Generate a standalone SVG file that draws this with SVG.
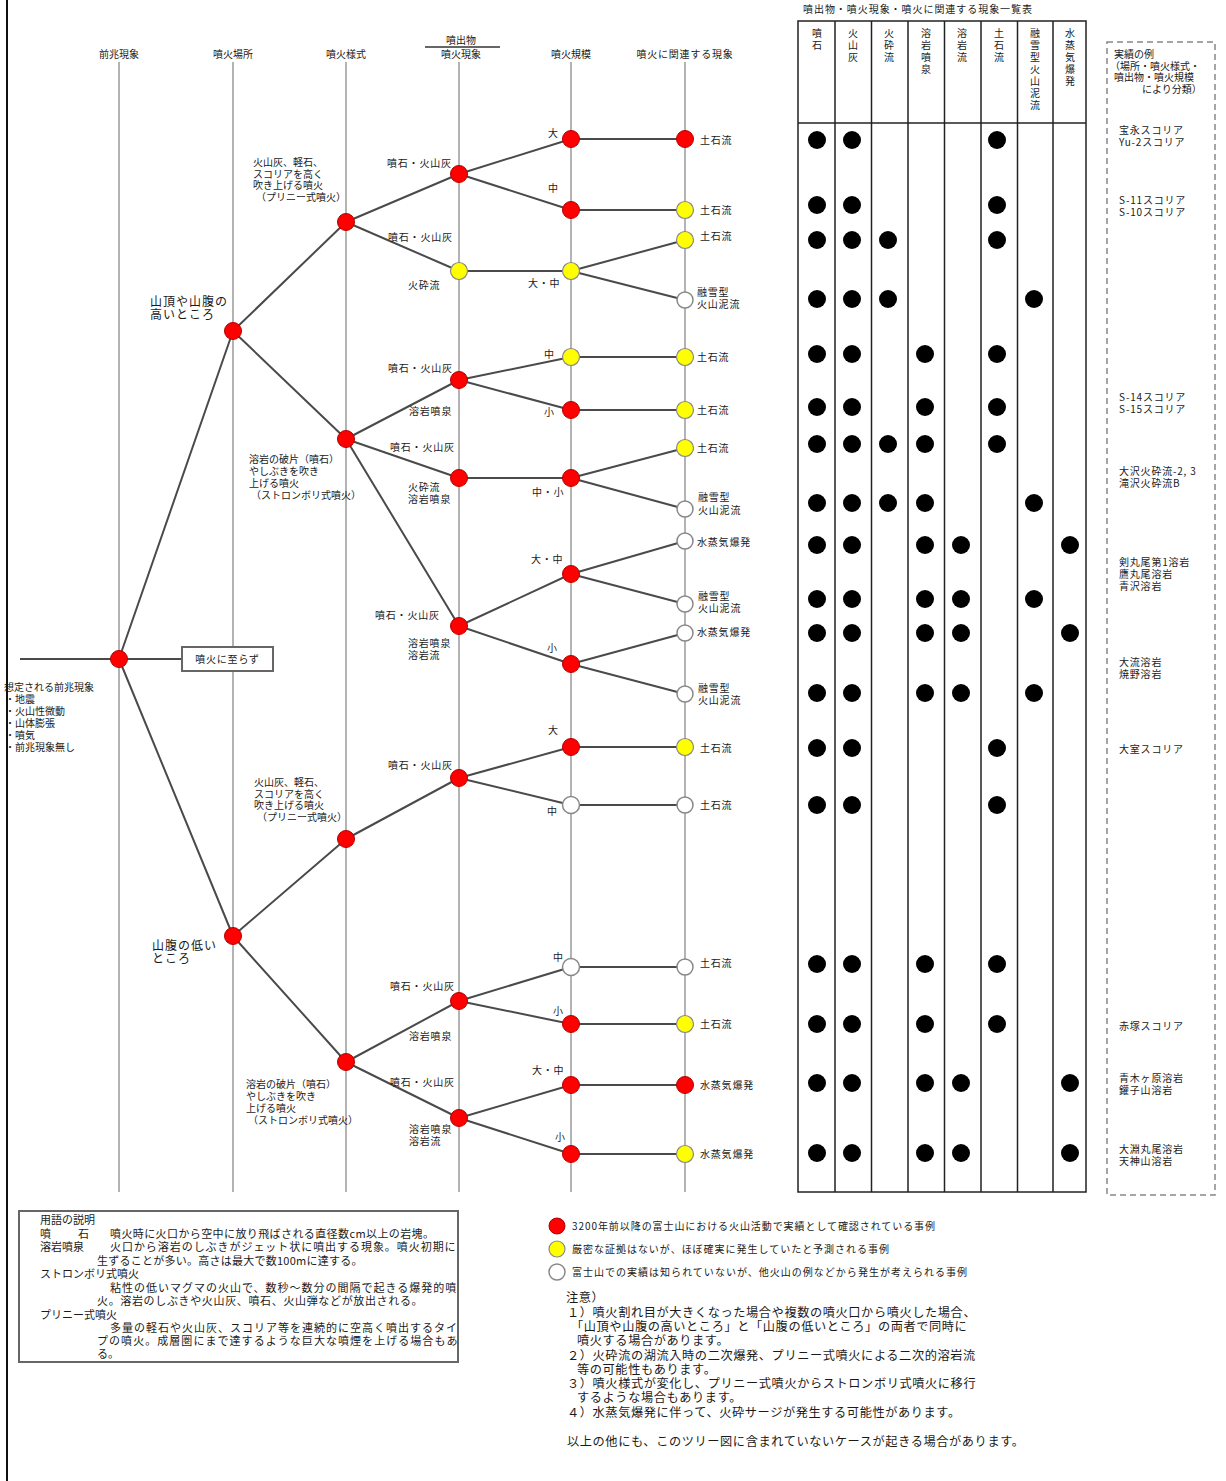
<svg xmlns="http://www.w3.org/2000/svg" width="1226" height="1481" viewBox="0 0 1226 1481">
<style>
text{font-family:"Noto Sans CJK JP","Noto Sans",sans-serif;fill:#1a1a1a;font-size:10px}
.hd{font-size:10px;text-anchor:middle}
.lb{font-size:10px;letter-spacing:0.8px}
.big{font-size:12px;letter-spacing:1px}
.note{font-size:12.2px;letter-spacing:0.6px}
.lg{font-size:11px}
.col{stroke:#9a9a9a;stroke-width:1.5;fill:none}
.edge{stroke:#4a4a4a;stroke-width:2;fill:none}
.r{fill:#ff0000;stroke:#b00000;stroke-width:1}
.y{fill:#ffff00;stroke:#888;stroke-width:1.2}
.w{fill:#fff;stroke:#888;stroke-width:1.5}
.dot{fill:#000}
.tbl{stroke:#222;stroke-width:1.5;fill:none}
</style>
<rect width="1226" height="1481" fill="#fff"/>

<g id="columns">
<line class="col" x1="119" y1="62" x2="119" y2="1192"/>
<line class="col" x1="233" y1="62" x2="233" y2="1192"/>
<line class="col" x1="346" y1="62" x2="346" y2="1192"/>
<line class="col" x1="459" y1="62" x2="459" y2="1192"/>
<line class="col" x1="571" y1="62" x2="571" y2="1192"/>
<line class="col" x1="685" y1="62" x2="685" y2="1192"/>
</g>
<g id="headers">
<text class="hd" x="119" y="58">前兆現象</text>
<text class="hd" x="233" y="58">噴火場所</text>
<text class="hd" x="346" y="58">噴火様式</text>
<text class="hd" x="461" y="44">噴出物</text>
<line x1="425" y1="47" x2="500" y2="47" stroke="#333" stroke-width="1.5"/>
<text class="hd" x="461" y="58">噴火現象</text>
<text class="hd" x="571" y="58">噴火規模</text>
<text class="hd" x="685" y="58" letter-spacing="0.8">噴火に関連する現象</text>
</g>

<g id="connectors">
<line class="edge" x1="20" y1="659" x2="182" y2="659"/>
<path class="edge" d="M119 659L233 331M119 659L233 936M233 331L346 222M233 331L346 439M346 222L459 174M346 222L459 271M459 174L571 139M459 174L571 210M459 271L571 271M571 139L685 139M571 210L685 210M571 271L685 240M571 271L685 300M346 439L459 380M346 439L459 478M346 439L459 626M459 380L571 357M459 380L571 410M571 357L685 357M571 410L685 410M459 478L571 478M571 478L685 448M571 478L685 509M459 626L571 574M459 626L571 664M571 574L685 541M571 574L685 604M571 664L685 633M571 664L685 694M233 936L346 839M233 936L346 1062M346 839L459 778M459 778L571 747M459 778L571 805M571 747L685 747M571 805L685 805M346 1062L459 1001M346 1062L459 1118M459 1001L571 967M459 1001L571 1024M571 967L685 967M571 1024L685 1024M459 1118L571 1085M459 1118L571 1154M571 1085L685 1085M571 1154L685 1154"/>
</g>

<g id="root"><circle class="r" cx="119" cy="659" r="8.5"/></g>
<g id="no-eruption"><rect x="182" y="647" width="91" height="24" fill="#fff" stroke="#666" stroke-width="2"/><text x="227.5" y="663" text-anchor="middle" class="lb">噴火に至らず</text></g>
<g id="precursor">
<text x="4" y="691">想定される前兆現象<tspan x="5" dy="12">・地震</tspan><tspan x="5" dy="12">・火山性微動</tspan><tspan x="5" dy="12">・山体膨張</tspan><tspan x="5" dy="12">・噴気</tspan><tspan x="5" dy="12">・前兆現象無し</tspan></text>
</g>
<line x1="7" y1="0" x2="7" y2="1481" stroke="#111" stroke-width="2"/>

<g id="place-high"><circle class="r" cx="233" cy="331" r="8.5"/><text class="big" x="150" y="306">山頂や山腹の<tspan x="150" dy="12.5">高いところ</tspan></text></g>
<g id="place-low"><circle class="r" cx="233" cy="936" r="8.5"/><text class="big" x="152" y="950">山腹の低い<tspan x="152" dy="13">ところ</tspan></text></g>

<g id="pliny-high"><circle class="r" cx="346" cy="222" r="8.5"/>
<text x="253" y="166">火山灰、軽石、<tspan x="253" dy="11.5">スコリアを高く</tspan><tspan x="253" dy="11.5">吹き上げる噴火</tspan><tspan x="256" dy="11.5">（プリニー式噴火）</tspan></text></g>
<g id="strom-high"><circle class="r" cx="346" cy="439" r="8.5"/>
<text x="249" y="463">溶岩の破片（噴石）<tspan x="249" dy="12">やしぶきを吹き</tspan><tspan x="249" dy="12">上げる噴火</tspan><tspan x="251" dy="12">（ストロンボリ式噴火）</tspan></text></g>
<g id="pliny-low"><circle class="r" cx="346" cy="839" r="8.5"/>
<text x="254" y="786">火山灰、軽石、<tspan x="254" dy="11.5">スコリアを高く</tspan><tspan x="254" dy="11.5">吹き上げる噴火</tspan><tspan x="257" dy="11.5">（プリニー式噴火）</tspan></text></g>
<g id="strom-low"><circle class="r" cx="346" cy="1062" r="8.5"/>
<text x="246" y="1088">溶岩の破片（噴石）<tspan x="246" dy="12">やしぶきを吹き</tspan><tspan x="246" dy="12">上げる噴火</tspan><tspan x="248" dy="12">（ストロンボリ式噴火）</tspan></text></g>

<g id="ejecta">
<circle class="r" cx="459" cy="174" r="8.5"/><text class="lb" x="387" y="167">噴石・火山灰</text>
<circle class="y" cx="459" cy="271" r="8.5"/><text class="lb" x="388" y="241">噴石・火山灰</text><text class="lb" x="408" y="289">火砕流</text>
<circle class="r" cx="459" cy="380" r="8.5"/><text class="lb" x="388" y="372">噴石・火山灰</text><text class="lb" x="409" y="415">溶岩噴泉</text>
<circle class="r" cx="459" cy="478" r="8.5"/><text class="lb" x="390" y="451">噴石・火山灰</text><text class="lb" x="408" y="491">火砕流<tspan x="408" dy="12">溶岩噴泉</tspan></text>
<circle class="r" cx="459" cy="626" r="8.5"/><text class="lb" x="375" y="619">噴石・火山灰</text><text class="lb" x="408" y="647">溶岩噴泉<tspan x="408" dy="12">溶岩流</tspan></text>
<circle class="r" cx="459" cy="778" r="8.5"/><text class="lb" x="388" y="769">噴石・火山灰</text>
<circle class="r" cx="459" cy="1001" r="8.5"/><text class="lb" x="390" y="990">噴石・火山灰</text><text class="lb" x="409" y="1040">溶岩噴泉</text>
<circle class="r" cx="459" cy="1118" r="8.5"/><text class="lb" x="390" y="1086">噴石・火山灰</text><text class="lb" x="409" y="1133">溶岩噴泉<tspan x="409" dy="12">溶岩流</tspan></text>
</g>

<g id="scale">
<circle class="r" cx="571" cy="139" r="8.5"/><text class="lb" x="548" y="137">大</text>
<circle class="r" cx="571" cy="210" r="8.5"/><text class="lb" x="548" y="192">中</text>
<circle class="y" cx="571" cy="271" r="8.5"/><text class="lb" x="528" y="287">大・中</text>
<circle class="y" cx="571" cy="357" r="8.5"/><text class="lb" x="544" y="358">中</text>
<circle class="r" cx="571" cy="410" r="8.5"/><text class="lb" x="544" y="416">小</text>
<circle class="r" cx="571" cy="478" r="8.5"/><text class="lb" x="532" y="496">中・小</text>
<circle class="r" cx="571" cy="574" r="8.5"/><text class="lb" x="531" y="563">大・中</text>
<circle class="r" cx="571" cy="664" r="8.5"/><text class="lb" x="547" y="652">小</text>
<circle class="r" cx="571" cy="747" r="8.5"/><text class="lb" x="548" y="734">大</text>
<circle class="w" cx="571" cy="805" r="8.5"/><text class="lb" x="547" y="815">中</text>
<circle class="w" cx="571" cy="967" r="8.5"/><text class="lb" x="553" y="961">中</text>
<circle class="r" cx="571" cy="1024" r="8.5"/><text class="lb" x="553" y="1015">小</text>
<circle class="r" cx="571" cy="1085" r="8.5"/><text class="lb" x="532" y="1074">大・中</text>
<circle class="r" cx="571" cy="1154" r="8.5"/><text class="lb" x="555" y="1141">小</text>
</g>

<g id="related">
<circle class="r" cx="685" cy="139" r="8.5"/><text class="lb" x="700" y="144">土石流</text>
<circle class="y" cx="685" cy="210" r="8.5"/><text class="lb" x="700" y="214">土石流</text>
<circle class="y" cx="685" cy="240" r="8.5"/><text class="lb" x="700" y="240">土石流</text>
<circle class="w" cx="685" cy="300" r="8"/><text class="lb" x="697" y="296">融雪型<tspan x="697" dy="11.5">火山泥流</tspan></text>
<circle class="y" cx="685" cy="357" r="8.5"/><text class="lb" x="697" y="361">土石流</text>
<circle class="y" cx="685" cy="410" r="8.5"/><text class="lb" x="697" y="414">土石流</text>
<circle class="y" cx="685" cy="448" r="8.5"/><text class="lb" x="697" y="452">土石流</text>
<circle class="w" cx="685" cy="509" r="8"/><text class="lb" x="698" y="501">融雪型<tspan x="698" dy="12.5">火山泥流</tspan></text>
<circle class="w" cx="685" cy="541" r="8"/><text class="lb" x="697" y="546">水蒸気爆発</text>
<circle class="w" cx="685" cy="604" r="8"/><text class="lb" x="698" y="600">融雪型<tspan x="698" dy="12">火山泥流</tspan></text>
<circle class="w" cx="685" cy="633" r="8"/><text class="lb" x="697" y="636">水蒸気爆発</text>
<circle class="w" cx="685" cy="694" r="8"/><text class="lb" x="698" y="692">融雪型<tspan x="698" dy="12">火山泥流</tspan></text>
<circle class="y" cx="685" cy="747" r="8.5"/><text class="lb" x="700" y="752">土石流</text>
<circle class="w" cx="685" cy="805" r="8"/><text class="lb" x="700" y="809">土石流</text>
<circle class="w" cx="685" cy="967" r="8"/><text class="lb" x="700" y="967">土石流</text>
<circle class="y" cx="685" cy="1024" r="8.5"/><text class="lb" x="700" y="1028">土石流</text>
<circle class="r" cx="685" cy="1085" r="8.5"/><text class="lb" x="700" y="1089">水蒸気爆発</text>
<circle class="y" cx="685" cy="1154" r="8.5"/><text class="lb" x="700" y="1158">水蒸気爆発</text>
</g>

<g id="table">
<text x="803" y="13" textLength="229">噴出物・噴火現象・噴火に関連する現象一覧表</text>
<rect class="tbl" x="798" y="21" width="288" height="1171"/>
<line class="tbl" x1="798" y1="123" x2="1086" y2="123"/>
<path class="tbl" d="M835 21V1192M871.5 21V1192M908 21V1192M944.5 21V1192M981 21V1192M1017.5 21V1192M1053 21V1192"/>
<g class="hd">
<text x="817" y="37">噴<tspan x="817" dy="12">石</tspan></text>
<text x="853" y="37">火<tspan x="853" dy="12">山</tspan><tspan x="853" dy="12">灰</tspan></text>
<text x="889" y="37">火<tspan x="889" dy="12">砕</tspan><tspan x="889" dy="12">流</tspan></text>
<text x="926" y="37">溶<tspan x="926" dy="12">岩</tspan><tspan x="926" dy="12">噴</tspan><tspan x="926" dy="12">泉</tspan></text>
<text x="962" y="37">溶<tspan x="962" dy="12">岩</tspan><tspan x="962" dy="12">流</tspan></text>
<text x="999" y="37">土<tspan x="999" dy="12">石</tspan><tspan x="999" dy="12">流</tspan></text>
<text x="1035" y="37">融<tspan x="1035" dy="12">雪</tspan><tspan x="1035" dy="12">型</tspan><tspan x="1035" dy="12">火</tspan><tspan x="1035" dy="12">山</tspan><tspan x="1035" dy="12">泥</tspan><tspan x="1035" dy="12">流</tspan></text>
<text x="1070" y="37">水<tspan x="1070" dy="12">蒸</tspan><tspan x="1070" dy="12">気</tspan><tspan x="1070" dy="12">爆</tspan><tspan x="1070" dy="12">発</tspan></text>
</g>
<g class="dot">
<circle cx="817" cy="140" r="9"/><circle cx="852" cy="140" r="9"/><circle cx="997" cy="140" r="9"/>
<circle cx="817" cy="205" r="9"/><circle cx="852" cy="205" r="9"/><circle cx="997" cy="205" r="9"/>
<circle cx="817" cy="240" r="9"/><circle cx="852" cy="240" r="9"/><circle cx="888" cy="240" r="9"/><circle cx="997" cy="240" r="9"/>
<circle cx="817" cy="299" r="9"/><circle cx="852" cy="299" r="9"/><circle cx="888" cy="299" r="9"/><circle cx="1034" cy="299" r="9"/>
<circle cx="817" cy="354" r="9"/><circle cx="852" cy="354" r="9"/><circle cx="925" cy="354" r="9"/><circle cx="997" cy="354" r="9"/>
<circle cx="817" cy="407" r="9"/><circle cx="852" cy="407" r="9"/><circle cx="925" cy="407" r="9"/><circle cx="997" cy="407" r="9"/>
<circle cx="817" cy="444" r="9"/><circle cx="852" cy="444" r="9"/><circle cx="888" cy="444" r="9"/><circle cx="925" cy="444" r="9"/><circle cx="997" cy="444" r="9"/>
<circle cx="817" cy="503" r="9"/><circle cx="852" cy="503" r="9"/><circle cx="888" cy="503" r="9"/><circle cx="925" cy="503" r="9"/><circle cx="1034" cy="503" r="9"/>
<circle cx="817" cy="545" r="9"/><circle cx="852" cy="545" r="9"/><circle cx="925" cy="545" r="9"/><circle cx="961" cy="545" r="9"/><circle cx="1070" cy="545" r="9"/>
<circle cx="817" cy="599" r="9"/><circle cx="852" cy="599" r="9"/><circle cx="925" cy="599" r="9"/><circle cx="961" cy="599" r="9"/><circle cx="1034" cy="599" r="9"/>
<circle cx="817" cy="633" r="9"/><circle cx="852" cy="633" r="9"/><circle cx="925" cy="633" r="9"/><circle cx="961" cy="633" r="9"/><circle cx="1070" cy="633" r="9"/>
<circle cx="817" cy="693" r="9"/><circle cx="852" cy="693" r="9"/><circle cx="925" cy="693" r="9"/><circle cx="961" cy="693" r="9"/><circle cx="1034" cy="693" r="9"/>
<circle cx="817" cy="748" r="9"/><circle cx="852" cy="748" r="9"/><circle cx="997" cy="748" r="9"/>
<circle cx="817" cy="805" r="9"/><circle cx="852" cy="805" r="9"/><circle cx="997" cy="805" r="9"/>
<circle cx="817" cy="964" r="9"/><circle cx="852" cy="964" r="9"/><circle cx="925" cy="964" r="9"/><circle cx="997" cy="964" r="9"/>
<circle cx="817" cy="1024" r="9"/><circle cx="852" cy="1024" r="9"/><circle cx="925" cy="1024" r="9"/><circle cx="997" cy="1024" r="9"/>
<circle cx="817" cy="1083" r="9"/><circle cx="852" cy="1083" r="9"/><circle cx="925" cy="1083" r="9"/><circle cx="961" cy="1083" r="9"/><circle cx="1070" cy="1083" r="9"/>
<circle cx="817" cy="1153" r="9"/><circle cx="852" cy="1153" r="9"/><circle cx="925" cy="1153" r="9"/><circle cx="961" cy="1153" r="9"/><circle cx="1070" cy="1153" r="9"/>
</g>
</g>

<g id="examples">
<rect x="1107" y="42" width="108" height="1153" fill="none" stroke="#888" stroke-width="1.5" stroke-dasharray="6 4"/>
<text x="1114" y="58">実績の例<tspan x="1110" dy="11.5">（場所・噴火様式・</tspan><tspan x="1114" dy="11.5">噴出物・噴火規模</tspan><tspan x="1142" dy="11.5">により分類）</tspan></text>
<g class="lb">
<text x="1119" y="134">宝永スコリア<tspan x="1119" dy="12">Yu-2スコリア</tspan></text>
<text x="1119" y="204">S-11スコリア<tspan x="1119" dy="12">S-10スコリア</tspan></text>
<text x="1119" y="401">S-14スコリア<tspan x="1119" dy="12">S-15スコリア</tspan></text>
<text x="1119" y="475">大沢火砕流-2, 3<tspan x="1119" dy="12">滝沢火砕流B</tspan></text>
<text x="1119" y="566">剣丸尾第1溶岩<tspan x="1119" dy="12">鷹丸尾溶岩</tspan><tspan x="1119" dy="12">青沢溶岩</tspan></text>
<text x="1119" y="666">大流溶岩<tspan x="1119" dy="12">焼野溶岩</tspan></text>
<text x="1119" y="753">大室スコリア</text>
<text x="1119" y="1030">赤塚スコリア</text>
<text x="1119" y="1082">青木ヶ原溶岩<tspan x="1119" dy="12">鑵子山溶岩</tspan></text>
<text x="1119" y="1153">大淵丸尾溶岩<tspan x="1119" dy="12">天神山溶岩</tspan></text>
</g>
</g>

<g id="glossary">
<rect x="19" y="1211" width="439" height="151" fill="none" stroke="#666" stroke-width="2"/>
<text class="lg" x="40" y="1224">用語の説明<tspan x="40" y="1238">噴</tspan><tspan x="78" y="1238">石</tspan><tspan x="110" y="1238" letter-spacing="0.4">噴火時に火口から空中に放り飛ばされる直径数cm以上の岩塊。</tspan><tspan x="40" y="1251">溶岩噴泉</tspan><tspan x="110" y="1251" letter-spacing="0.95">火口から溶岩のしぶきがジェット状に噴出する現象。噴火初期に</tspan><tspan x="97" y="1265" letter-spacing="0.25">生ずることが多い。高さは最大で数100mに達する。</tspan><tspan x="40" y="1278">ストロンボリ式噴火</tspan><tspan x="110" y="1292" letter-spacing="1">粘性の低いマグマの火山で、数秒～数分の間隔で起きる爆発的噴</tspan><tspan x="97" y="1305" letter-spacing="0.65">火。溶岩のしぶきや火山灰、噴石、火山弾などが放出される。</tspan><tspan x="40" y="1319">プリニー式噴火</tspan><tspan x="110" y="1332" letter-spacing="1">多量の軽石や火山灰、スコリア等を連続的に空高く噴出するタイ</tspan><tspan x="97" y="1345" letter-spacing="1.05">プの噴火。成層圏にまで達するような巨大な噴煙を上げる場合もあ</tspan><tspan x="97" y="1358">る。</tspan></text>
</g>

<g id="legend">
<circle class="r" cx="557" cy="1226" r="8"/><text x="572" y="1230" textLength="363">3200年前以降の富士山における火山活動で実績として確認されている事例</text>
<circle class="y" cx="557" cy="1249" r="8"/><text x="572" y="1253" textLength="317">厳密な証拠はないが、ほぼ確実に発生していたと予測される事例</text>
<circle class="w" cx="557" cy="1272" r="8"/><text x="572" y="1276" textLength="395">富士山での実績は知られていないが、他火山の例などから発生が考えられる事例</text>
</g>

<g id="notes">
<text class="note" x="566" y="1302">注意）<tspan x="567" y="1317">１）噴火割れ目が大きくなった場合や複数の噴火口から噴火した場合、</tspan><tspan x="571" y="1331">「山頂や山腹の高いところ」と「山腹の低いところ」の両者で同時に</tspan><tspan x="577" y="1345">噴火する場合があります。</tspan><tspan x="567" y="1360">２）火砕流の湖流入時の二次爆発、プリニー式噴火による二次的溶岩流</tspan><tspan x="577" y="1374">等の可能性もあります。</tspan><tspan x="567" y="1388">３）噴火様式が変化し、プリニー式噴火からストロンボリ式噴火に移行</tspan><tspan x="577" y="1402">するような場合もあります。</tspan><tspan x="567" y="1417">４）水蒸気爆発に伴って、火砕サージが発生する可能性があります。</tspan><tspan x="567" y="1446">以上の他にも、このツリー図に含まれていないケースが起きる場合があります。</tspan></text>
</g>
</svg>
